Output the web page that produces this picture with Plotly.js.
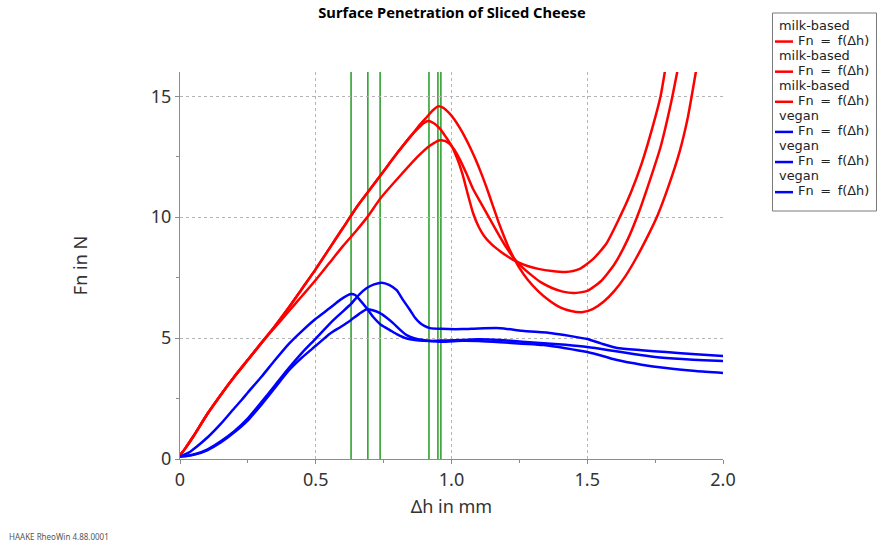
<!DOCTYPE html>
<html>
<head>
<meta charset="utf-8">
<script src="https://cdn.plot.ly/plotly-3.0.1.min.js"></script>
<style>html,body{margin:0;padding:0;background:#fff;}#chart{width:877px;height:543px;}</style>
</head>
<body>
<div id="chart"></div>
<script>
// ---- Data ----
const seriesGroups = ['milk-based', 'milk-based', 'milk-based', 'vegan', 'vegan', 'vegan'];
const seriesLabel = 'Fn = f(\u0394h)';
const seriesColors = ['rgb(255,0,0)', 'rgb(255,0,0)', 'rgb(255,0,0)', 'rgb(0,0,255)', 'rgb(0,0,255)', 'rgb(0,0,255)'];

// milk-based 1 (highest peak)
const xM1 = [0, 0.02, 0.05, 0.1, 0.15, 0.2, 0.25, 0.3, 0.35, 0.4, 0.45, 0.5, 0.55, 0.6, 0.65, 0.7, 0.75, 0.8, 0.85, 0.88, 0.91, 0.93, 0.95, 0.97, 0.99, 1.01, 1.03, 1.05, 1.07, 1.09, 1.11, 1.13, 1.15, 1.17, 1.19, 1.21, 1.23, 1.25, 1.28, 1.32, 1.36, 1.4, 1.44, 1.48, 1.52, 1.56, 1.6, 1.64, 1.68, 1.72, 1.76, 1.8, 1.84, 1.87, 1.9, 1.92];
const yM1 = [0.15, 0.45, 0.95, 1.85, 2.65, 3.4, 4.1, 4.8, 5.5, 6.25, 7.05, 7.85, 8.7, 9.55, 10.4, 11.15, 11.9, 12.65, 13.35, 13.78, 14.15, 14.4, 14.58, 14.52, 14.32, 14.05, 13.7, 13.3, 12.85, 12.35, 11.8, 11.2, 10.55, 9.9, 9.3, 8.75, 8.3, 7.9, 7.42, 6.93, 6.55, 6.27, 6.12, 6.07, 6.2, 6.5, 6.95, 7.55, 8.3, 9.15, 10.1, 11.3, 12.7, 14.1, 16.0, 17.3];
// milk-based 2 (earliest peak)
const xM2 = [0, 0.02, 0.05, 0.1, 0.15, 0.2, 0.25, 0.3, 0.35, 0.4, 0.45, 0.5, 0.55, 0.6, 0.65, 0.7, 0.75, 0.8, 0.85, 0.88, 0.9, 0.913, 0.935, 0.958, 0.98, 1.0, 1.02, 1.04, 1.06, 1.08, 1.1, 1.12, 1.15, 1.18, 1.21, 1.24, 1.28, 1.32, 1.37, 1.42, 1.47, 1.52, 1.57, 1.62, 1.66, 1.7, 1.74, 1.77, 1.79];
const yM2 = [0.15, 0.45, 0.95, 1.85, 2.65, 3.4, 4.1, 4.8, 5.5, 6.25, 7.05, 7.85, 8.7, 9.55, 10.4, 11.15, 11.9, 12.65, 13.35, 13.7, 13.9, 13.97, 13.88, 13.65, 13.3, 12.95, 12.45, 11.8, 10.95, 10.15, 9.6, 9.22, 8.85, 8.58, 8.35, 8.16, 7.98, 7.86, 7.77, 7.73, 7.85, 8.25, 8.9, 10.0, 11.0, 12.2, 13.7, 15.0, 16.3];
// milk-based 3 (lowest peak)
const xM3 = [0, 0.02, 0.05, 0.1, 0.15, 0.2, 0.25, 0.3, 0.35, 0.4, 0.45, 0.5, 0.55, 0.6, 0.65, 0.69, 0.74, 0.81, 0.88, 0.92, 0.958, 0.975, 0.994, 1.01, 1.03, 1.055, 1.08, 1.11, 1.14, 1.17, 1.2, 1.23, 1.26, 1.3, 1.33, 1.37, 1.41, 1.45, 1.5, 1.55, 1.6, 1.65, 1.69, 1.73, 1.77, 1.81, 1.84];
const yM3 = [0.15, 0.45, 0.95, 1.85, 2.65, 3.4, 4.1, 4.8, 5.45, 6.1, 6.75, 7.4, 8.1, 8.8, 9.45, 10.0, 10.8, 11.7, 12.55, 12.95, 13.18, 13.15, 13.02, 12.8, 12.4, 11.8, 11.15, 10.55, 9.95, 9.35, 8.78, 8.3, 7.93, 7.55, 7.3, 7.07, 6.92, 6.86, 6.95, 7.35, 8.05, 9.1, 10.2, 11.5, 12.9, 14.8, 16.5];
// vegan 1 (earliest peak)
const xV1 = [0, 0.03, 0.06, 0.104, 0.15, 0.2, 0.227, 0.25, 0.3, 0.35, 0.4, 0.45, 0.5, 0.552, 0.59, 0.629, 0.645, 0.663, 0.69, 0.711, 0.74, 0.773, 0.8, 0.835, 0.88, 0.921, 0.98, 1.04, 1.1, 1.18, 1.26, 1.34, 1.42, 1.5, 1.58, 1.67, 1.75, 1.85, 1.93, 2.0];
const yV1 = [0.1, 0.25, 0.5, 0.92, 1.45, 2.1, 2.44, 2.75, 3.4, 4.09, 4.75, 5.3, 5.8, 6.24, 6.58, 6.82, 6.78, 6.57, 6.2, 5.88, 5.55, 5.33, 5.15, 4.98, 4.9, 4.88, 4.9, 4.92, 4.95, 4.92, 4.85, 4.79, 4.72, 4.63, 4.5, 4.34, 4.22, 4.13, 4.08, 4.05];
// vegan 2 (lowest peak)
const xV2 = [0, 0.03, 0.06, 0.1, 0.15, 0.2, 0.25, 0.3, 0.35, 0.4, 0.45, 0.5, 0.552, 0.59, 0.629, 0.66, 0.688, 0.71, 0.737, 0.76, 0.785, 0.81, 0.835, 0.865, 0.895, 0.958, 1.04, 1.1, 1.18, 1.26, 1.34, 1.42, 1.5, 1.56, 1.61, 1.7, 1.79, 1.9, 2.0];
const yV2 = [0.1, 0.13, 0.2, 0.36, 0.68, 1.1, 1.6, 2.25, 2.95, 3.65, 4.2, 4.68, 5.18, 5.45, 5.74, 6.0, 6.19, 6.15, 6.03, 5.85, 5.62, 5.35, 5.12, 4.98, 4.92, 4.85, 4.89, 4.88, 4.83, 4.77, 4.71, 4.58, 4.42, 4.25, 4.09, 3.9, 3.76, 3.64, 3.56];
// vegan 3 (highest peak)
const xV3 = [0, 0.03, 0.06, 0.1, 0.15, 0.2, 0.25, 0.3, 0.35, 0.4, 0.45, 0.5, 0.552, 0.59, 0.629, 0.66, 0.688, 0.715, 0.743, 0.77, 0.798, 0.82, 0.847, 0.865, 0.884, 0.9, 0.921, 0.96, 1.04, 1.1, 1.18, 1.26, 1.37, 1.44, 1.5, 1.55, 1.61, 1.7, 1.79, 1.9, 2.0];
const yV3 = [0.1, 0.14, 0.22, 0.39, 0.73, 1.15, 1.68, 2.35, 3.05, 3.75, 4.4, 4.98, 5.6, 6.0, 6.4, 6.8, 7.07, 7.22, 7.29, 7.2, 6.98, 6.6, 6.16, 5.85, 5.62, 5.5, 5.41, 5.38, 5.37, 5.4, 5.41, 5.3, 5.2, 5.08, 4.96, 4.78, 4.59, 4.5, 4.42, 4.33, 4.26];

// peak positions (green markers)
const peakX = [0.630, 0.692, 0.737, 0.917, 0.950, 0.961];

const xTickVals = [0, 0.5, 1.0, 1.5, 2.0];
const xTickText = ['0', '0.5', '1.0', '1.5', '2.0'];
const yTickVals = [0, 5, 10, 15];
const yTickText = ['0', '5', '10', '15'];

// ---- Build chart ----
const xs = [xM1, xM2, xM3, xV1, xV2, xV3];
const ys = [yM1, yM2, yM3, yV1, yV2, yV3];
const traces = xs.map((x, i) => ({
  type: 'scatter', mode: 'lines', x: x, y: ys[i],
  name: seriesGroups[i] + ' ' + seriesLabel,
  line: {color: seriesColors[i], width: 2.5, shape: 'spline', smoothing: 0.6},
  hoverinfo: 'x+y'
}));

const L = 180, T = 72, PW = 543, PH = 387;
const px2x = p => (p - L) / PW;
const py2y = p => (T + PH - p) / PH;
const FONT = 'Noto Sans, Open Sans, sans-serif';
const LEGFONT = 'DejaVu Sans, sans-serif';

const shapes = peakX.map(v => ({
  type: 'line', xref: 'x', yref: 'paper', x0: v, x1: v, y0: 0, y1: 1,
  line: {color: 'rgb(0,140,0)', width: 1.3}, layer: 'below'
}));

// legend box
shapes.push({type: 'rect', xref: 'paper', yref: 'paper',
  x0: px2x(772.5), x1: px2x(876.5), y0: py2y(211), y1: py2y(13),
  line: {color: '#7a7a7a', width: 1}, fillcolor: 'rgba(255,255,255,0)'});

const legendLabelText = seriesLabel.replace(/ /g, ' \u2009');
const annotations = [];
seriesGroups.forEach((g, i) => {
  const yName = 25 + 30.12 * i;
  const yItem = 40.06 + 30.12 * i;
  annotations.push({xref: 'paper', yref: 'paper', x: px2x(778), y: py2y(yName),
    xanchor: 'left', yanchor: 'middle', showarrow: false, text: g, borderpad: 0,
    font: {family: LEGFONT, size: 12.9, color: '#222'}});
  annotations.push({xref: 'paper', yref: 'paper', x: px2x(797), y: py2y(yItem),
    xanchor: 'left', yanchor: 'middle', showarrow: false, text: legendLabelText, borderpad: 0,
    font: {family: LEGFONT, size: 12.9, color: '#222'}});
  shapes.push({type: 'line', xref: 'paper', yref: 'paper',
    x0: px2x(775), x1: px2x(793), y0: py2y(yItem + 1.5), y1: py2y(yItem + 1.5),
    line: {color: seriesColors[i], width: 2.5}});
});

annotations.push({xref: 'paper', yref: 'paper', x: px2x(7), y: py2y(536),
  xanchor: 'left', yanchor: 'middle', showarrow: false, text: 'HAAKE RheoWin 4.88.0001',
  font: {family: FONT, size: 8, color: '#555'}});

const axisCommon = {
  showline: true, linecolor: '#8c8c8c', linewidth: 1,
  ticks: 'outside', ticklen: 4, tickcolor: '#8c8c8c',
  showgrid: true, gridcolor: '#b4b4b4', griddash: 'dot', gridwidth: 1,
  zeroline: false, tickmode: 'array',
  tickfont: {family: FONT, size: 18, color: '#333'}
};

const layout = {
  width: 877, height: 543,
  margin: {l: L, r: 877 - L - PW, t: T, b: 543 - T - PH, pad: 0},
  paper_bgcolor: '#fff', plot_bgcolor: '#fff',
  showlegend: false,
  title: {text: '<b>Surface Penetration of Sliced Cheese</b>',
    font: {family: FONT, size: 14.7, color: '#000'},
    x: 452 / 877, xref: 'container', xanchor: 'center',
    y: 1 - 13 / 543, yref: 'container', yanchor: 'middle'},
  xaxis: Object.assign({}, axisCommon, {
    range: [0, 2], tickvals: xTickVals, ticktext: xTickText,
    minor: {tickvals: [0.25, 0.75, 1.25, 1.75], ticks: 'outside', ticklen: 3, tickcolor: '#8c8c8c', showgrid: false},
    title: {text: '\u0394h in mm', font: {family: FONT, size: 18, color: '#333'}, standoff: 10}
  }),
  yaxis: Object.assign({}, axisCommon, {
    range: [0, 16], tickvals: yTickVals, ticktext: yTickText,
    minor: {tickvals: [2.5, 7.5, 12.5], ticks: 'outside', ticklen: 3, tickcolor: '#8c8c8c', showgrid: false},
    title: {text: 'Fn in N', font: {family: FONT, size: 18, color: '#333'}, standoff: 58}
  }),
  shapes: shapes,
  annotations: annotations
};

Plotly.newPlot('chart', traces, layout, {displayModeBar: false, staticPlot: true});
</script>
</body>
</html>
